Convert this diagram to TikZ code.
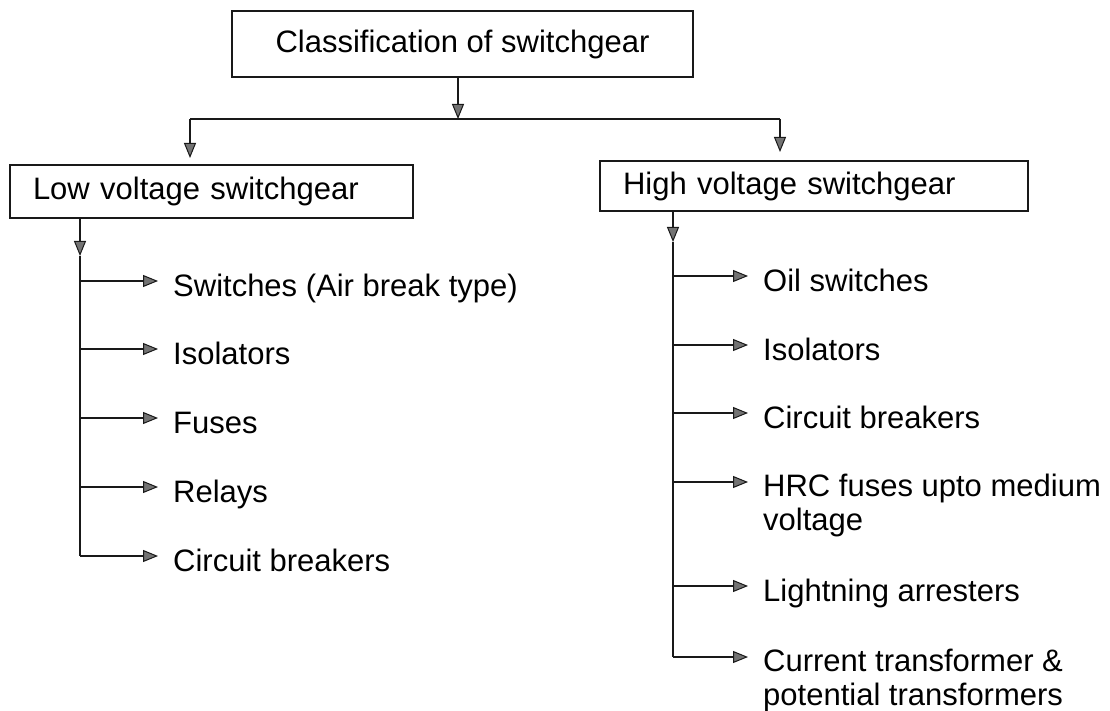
\documentclass[tikz,border=0pt]{standalone}
\usepackage{fontspec}
\setmainfont{Liberation Sans}
\usetikzlibrary{arrows.meta,calc}
\tikzset{
  arr/.style={-{Triangle[length=15pt,width=12pt,line width=1pt,fill=black!55]}},
  ln/.style={line width=2pt,draw=black!90},
  boxnode/.style={draw=black!90,line width=2pt,inner ysep=0pt,
    font=\fontsize{31}{34}\selectfont},
  item/.style={anchor=north west,inner sep=0pt,align=left,
    font=\fontsize{31}{34}\selectfont},
  single/.style={text height=23pt,text depth=7pt}
}
\begin{document}
\begin{tikzpicture}[x=1pt,y=-1pt]
\useasboundingbox[fill=white] (0,0) rectangle (1110,711);

% boxes
\node[boxnode,minimum width=461pt,minimum height=66pt] (title) at (462.5,44) {Classification of switchgear};
\node[boxnode,minimum height=53pt,text width=357pt,inner xsep=23pt,align=left] (lv) at (211.5,191.5) {Low voltage switchgear};
\node[boxnode,minimum height=50pt,text width=382pt,inner xsep=23pt,align=left] (hv) at (814,186) {High voltage switchgear};

% top distribution
\coordinate (j) at (458,119);
\coordinate (jl) at (190,119);
\coordinate (jr) at (780,119);
\draw[ln,arr] (title.south -| j) -- (j);
\draw[ln] (jl) -- (jr);
\draw[ln,arr,shorten >=6pt] (jl) -- (jl |- lv.north);
\draw[ln,arr,shorten >=8pt] (jr) -- (jr |- hv.north);

% low voltage items
\node[item,single] (l1) at (173,273) {Switches (Air break type)};
\node[item,single] (l2) at (173,341) {Isolators};
\node[item,single] (l3) at (173,410) {Fuses};
\node[item,single] (l4) at (173,479) {Relays};
\node[item,single] (l5) at (173,548) {Circuit breakers};

\coordinate (lva) at (80,256);
\coordinate (lvb) at (80,556);
\draw[ln,arr] (lv.south -| lva) -- (lva);
\draw[ln] (lva) -- (lvb);
\foreach \n in {l1,l2,l3,l4,l5}{
  \draw[ln,arr] ($(\n.north west)+(-93,8)$) -- ($(\n.north west)+(-15,8)$);
}

% high voltage items
\node[item,single] (h1) at (763,268) {Oil switches};
\node[item,single] (h2) at (763,337) {Isolators};
\node[item,single] (h3) at (763,405) {Circuit breakers};
\node[item] (h4) at (763,474) {HRC fuses upto medium\\voltage};
\node[item,single] (h5) at (763,578) {Lightning arresters};
\node[item] (h6) at (763,649) {Current transformer \&\\potential transformers};

\coordinate (hva) at (673,242);
\coordinate (hvb) at (673,657);
\draw[ln,arr] (hv.south -| hva) -- (hva);
\draw[ln] (hva) -- (hvb);
\foreach \n in {h1,h2,h3,h4,h5,h6}{
  \draw[ln,arr] ($(\n.north west)+(-90,8)$) -- ($(\n.north west)+(-15,8)$);
}
\end{tikzpicture}
\end{document}
